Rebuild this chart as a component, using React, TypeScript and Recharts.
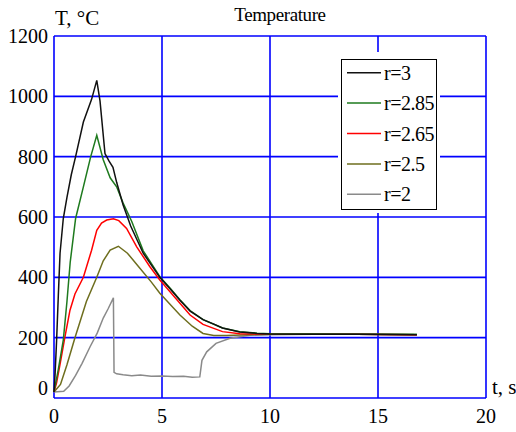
import React from 'react';
import { LineChart, Line, XAxis, YAxis, CartesianGrid, Legend } from 'recharts';

// ---- data ----
const seriesNames = ['r=3', 'r=2.85', 'r=2.65', 'r=2.5', 'r=2'];
const seriesColors = ['#111111', '#1e7a1e', '#ff0000', '#6e6e1e', '#8a8a8a'];

const tR3 = [0, 0.05, 0.12, 0.2, 0.28, 0.43, 0.6, 0.8, 1.0, 1.36, 1.74, 1.98, 2.13, 2.36, 2.55, 2.73, 2.9, 3.2, 3.55, 4.13, 4.9, 5.4, 5.83, 6.3, 6.9, 7.4, 7.8, 8.6, 9.4, 10, 12, 14, 16.8];
const TR3 = [20, 80, 190, 340, 480, 595, 665, 740, 800, 915, 990, 1053, 985, 810, 785, 765, 715, 640, 570, 480, 400, 360, 324, 288, 260, 245, 232, 219, 214, 212, 211, 211, 210];

const tR285 = [0, 0.2, 0.43, 0.6, 0.75, 1.0, 1.36, 1.7, 1.98, 2.28, 2.6, 2.9, 3.2, 3.6, 4.13, 4.9, 5.4, 5.83, 6.3, 6.9, 7.8, 8.6, 9.4, 10, 12, 14, 16.8];
const TR285 = [20, 95, 192, 320, 450, 595, 700, 800, 871, 790, 730, 700, 646, 585, 488, 402, 362, 326, 290, 260, 232, 220, 215, 213, 212, 211, 211];

const tR265 = [0, 0.12, 0.3, 0.5, 0.74, 0.97, 1.36, 1.74, 1.98, 2.2, 2.44, 2.75, 3.0, 3.36, 3.83, 4.44, 4.9, 5.4, 5.83, 6.3, 6.9, 7.8, 8.6, 10, 12, 14, 16.8];
const TR265 = [20, 50, 120, 200, 291, 345, 400, 490, 556, 580, 590, 594, 588, 562, 501, 435, 391, 350, 314, 275, 244, 220, 213, 212, 211, 211, 210];

const tR25 = [0, 0.3, 0.6, 0.97, 1.5, 1.98, 2.28, 2.6, 2.98, 3.4, 3.9, 4.5, 4.9, 5.2, 5.83, 6.4, 6.9, 7.4, 8, 9, 10, 12, 14, 16.8];
const TR25 = [20, 45, 110, 200, 320, 400, 455, 490, 503, 480, 437, 385, 347, 324, 275, 238, 214, 207, 207, 210, 211, 211, 211, 210];

const tR2 = [0, 0.45, 0.7, 1.0, 1.3, 1.67, 2.0, 2.28, 2.5, 2.75, 2.78, 2.9, 3.2, 3.6, 4.0, 4.5, 5.0, 5.5, 6.0, 6.4, 6.75, 6.85, 7.07, 7.5, 8.15, 9.07, 10, 12, 14, 16.8];
const TR2 = [20, 22, 40, 75, 115, 170, 215, 265, 295, 332, 85, 80, 77, 74, 76, 72, 73, 71, 72, 69, 70, 125, 153, 181, 198, 208, 210, 211, 211, 210];

const xTicks = [0, 5, 10, 15, 20];
const yTicks = [0, 200, 400, 600, 800, 1000, 1200];

const chartTitle = 'Temperature';
const yLabel = 'T, °C';
const xLabel = 't, s';

const toRows = (ts: number[], vs: number[]) => ts.map((t, i) => ({ t, T: vs[i] }));
const seriesData = [toRows(tR3, TR3), toRows(tR285, TR285), toRows(tR265, TR265), toRows(tR25, TR25), toRows(tR2, TR2)];

const FONT = "'Liberation Serif', Tinos, 'Times New Roman', Times, 'Nimbus Roman', 'Nimbus Roman No9 L', FreeSerif, 'Noto Serif', 'DejaVu Serif', serif";
const fontStyle = { fontFamily: FONT };

const YTick = (props: any) => {
  const { x, y, payload } = props;
  const shift = payload.value === 0 ? -10 : 0;
  return (
    <text x={x} y={y + shift} dy={7} textAnchor="end" style={fontStyle} fontSize={20} fill="#000">
      {payload.value}
    </text>
  );
};

const XTick = (props: any) => {
  const { x, y, payload } = props;
  return (
    <text x={x} y={y} dy={25} textAnchor="middle" style={fontStyle} fontSize={20} fill="#000">
      {payload.value}
    </text>
  );
};

const LegendBox = (props: any) => {
  const payload: any[] = props.payload || [];
  const items = seriesNames
    .map((n) => payload.find((p: any) => p.value === n))
    .filter(Boolean);
  return (
    <div style={{ background: '#fff', padding: '7px 3px 3px 3px', width: 102, height: 161, boxSizing: 'border-box' }}>
      <div style={{ border: '1.5px solid #000', width: 96, height: 151, boxSizing: 'border-box', position: 'relative' }}>
        <svg width={96} height={151} style={{ position: 'absolute', left: -1.5, top: -1.5, overflow: 'visible' }}>
          {items.map((it: any, i: number) => {
            const cy = 13.7 + i * 30.4;
            return (
              <g key={it.value}>
                <line x1={6} x2={40} y1={cy} y2={cy} stroke={it.color} strokeWidth={1.5} />
                <text x={43} y={cy + 7} style={fontStyle} fontSize={20} fill="#000" letterSpacing={-0.5}>
                  {it.value}
                </text>
              </g>
            );
          })}
        </svg>
      </div>
    </div>
  );
};

export default function App() {
  const drawOrder = [4, 3, 2, 1, 0];
  return (
    <div style={{ position: 'absolute', left: 0, top: 0, width: 516, height: 432, background: '#fff', fontFamily: FONT }}>
      <LineChart width={516} height={432} margin={{ top: 36, right: 30, bottom: 0, left: 0 }}>
        <CartesianGrid stroke="#0000ff" strokeWidth={1.6} fill="none" />
        <XAxis
          type="number"
          dataKey="t"
          domain={[0, 20]}
          ticks={xTicks}
          height={34}
          axisLine={false}
          tickLine={false}
          tickSize={0}
          tickMargin={0}
          tick={<XTick />}
          allowDuplicatedCategory={false}
        />
        <YAxis
          type="number"
          domain={[0, 1200]}
          ticks={yTicks}
          width={54}
          axisLine={false}
          tickLine={false}
          tickSize={6}
          tickMargin={0}
          tick={<YTick />}
        />
        <Legend
          layout="vertical"
          align="center"
          verticalAlign="middle"
          content={<LegendBox />}
          wrapperStyle={{ left: 338, top: 52, width: 102, height: 161 }}
        />
        {drawOrder.map((i) => (
          <Line
            key={seriesNames[i]}
            name={seriesNames[i]}
            data={seriesData[i]}
            dataKey="T"
            type="linear"
            stroke={seriesColors[i]}
            strokeWidth={1.5}
            dot={false}
            activeDot={false}
            isAnimationActive={false}
          />
        ))}
      </LineChart>
      <svg width={516} height={432} style={{ position: 'absolute', left: 0, top: 0, pointerEvents: 'none' }}>
        <text x={280} y={21} textAnchor="middle" style={fontStyle} fontSize={19} fill="#000" letterSpacing={-0.4}>
          {chartTitle}
        </text>
        <text x={55} y={25} style={fontStyle} fontSize={21} fill="#000">
          {yLabel}
        </text>
        <text x={492} y={394} style={fontStyle} fontSize={21} fill="#000">
          {xLabel}
        </text>
      </svg>
    </div>
  );
}
